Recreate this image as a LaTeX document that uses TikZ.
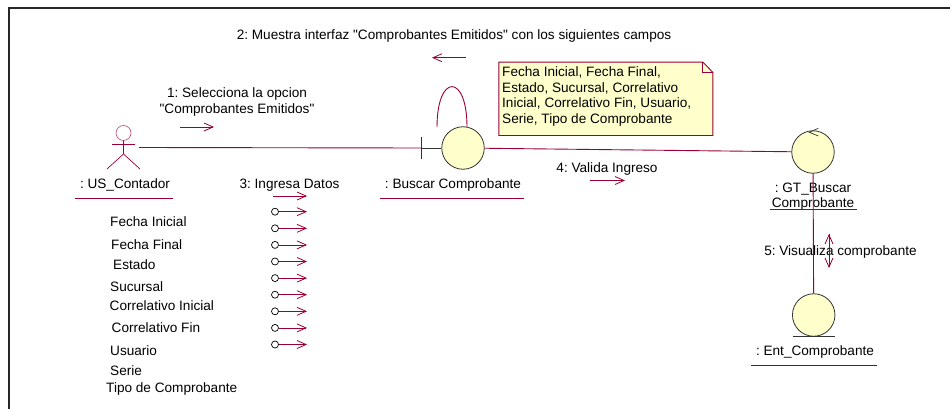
\documentclass[tikz,border=0pt]{standalone}
\usepackage{fontspec}
\setmainfont{Liberation Sans}
\usepackage{xcolor}
\usetikzlibrary{calc}
\usetikzlibrary{positioning}
\usetikzlibrary{arrows.meta}
\definecolor{linea}{HTML}{990033}
\definecolor{crema}{HTML}{FFFFCC}
\definecolor{oscuro}{HTML}{333333}

\begin{document}
\frenchspacing
\begin{tikzpicture}[x=1pt,y=1pt,on grid,>={Straight Barb[length=9pt,width=8pt]},
      every node/.style={font=\fontsize{13.6}{15.5}\selectfont, inner sep=0pt},
      texto/.style={text height=11.5pt, text depth=3pt},
      clase/.style={circle, draw=oscuro, fill=crema, line width=0.8pt, minimum size=42.5pt},
      punto/.style={circle, draw=black, fill=white, line width=0.7pt, minimum size=7pt},
      enlace/.style={draw=linea, line width=0.9pt},
      mensaje/.style={->, draw=linea, line width=0.8pt},
      subraya/.style={draw=linea, line width=0.8pt}]

      \useasboundingbox (0,0) rectangle (950,-409);
      \draw[line width=2pt, draw=black!85] (8.8,-409) -- (8.8,-8.5) -- (950,-8.5);

      \node[clase] (buscar) at (463,-148) {};
      \node[texto] (buscarLabel) [below=36pt of buscar, xshift=-10pt] {: Buscar Comprobante};
      \coordinate[below=14pt of buscarLabel, xshift=-73pt] (buscarS1);
      \coordinate[below=14pt of buscarLabel, xshift=71pt] (buscarS2);
      \coordinate[left=42pt of buscar] (barra);
      \coordinate[above=11pt of barra] (barraT);
      \coordinate[below=11pt of barra] (barraB);
      \coordinate[above=21pt of buscar, xshift=-26pt] (loopL);
      \coordinate[above=21pt of buscar, xshift=4pt] (loopR);

      \node[circle, draw=linea!70, line width=0.6pt, minimum size=15pt] (cabeza) [left=339.5pt of buscar, yshift=15pt] {};
      \coordinate[below=11pt of cabeza, xshift=-11.5pt] (brazoL);
      \coordinate[below=11pt of cabeza, xshift=11.5pt] (brazoR);
      \coordinate[below=21pt of cabeza] (cadera);
      \coordinate[below=36pt of cabeza, xshift=-16.5pt] (piernaL);
      \coordinate[below=36pt of cabeza, xshift=16.5pt] (piernaR);
      \coordinate[below=14.5pt of cabeza, xshift=15.5pt] (actor);
      \node[texto] (usLabel) [below=51pt of cabeza, xshift=1.5pt] {: US\_Contador};
      \coordinate[below=14pt of usLabel, xshift=-50pt] (usS1);
      \coordinate[below=14pt of usLabel, xshift=48pt] (usS2);

      \node[texto] (campo1) [below=38pt of usLabel, xshift=-15pt, anchor=west] {Fecha Inicial};
      \node[texto] (campo2) [below=61pt of usLabel, xshift=-14pt, anchor=west] {Fecha Final};
      \node[texto] (campo3) [below=81.5pt of usLabel, xshift=-12pt, anchor=west] {Estado};
      \node[texto] (campo4) [below=103pt of usLabel, xshift=-15pt, anchor=west] {Sucursal};
      \node[texto] (campo5) [below=122pt of usLabel, xshift=-15.5pt, anchor=west] {Correlativo Inicial};
      \node[texto] (campo6) [below=144pt of usLabel, xshift=-13.5pt, anchor=west] {Correlativo Fin};
      \node[texto] (campo7) [below=167pt of usLabel, xshift=-15pt, anchor=west] {Usuario};
      \node[texto] (campo8) [below=187pt of usLabel, xshift=-15pt, anchor=west] {Serie};
      \node[texto] (campo9) [below=204pt of usLabel, xshift=-19pt, anchor=west] {Tipo de Comprobante};

      \node[align=center] (msg1) [right=113.5pt of cabeza, yshift=31pt] {1: Selecciona la opcion\\\textquotedbl Comprobantes Emitidos\textquotedbl};
      \coordinate[below=25pt of msg1, xshift=-57pt] (msg1a);
      \coordinate[below=25pt of msg1, xshift=-23pt] (msg1b);

      \node[texto] (msg2) [above=113pt of buscar, xshift=-9pt] {2: Muestra interfaz \textquotedbl Comprobantes Emitidos\textquotedbl{} con los siguientes campos};
      \coordinate[below=22.7pt of msg2, xshift=12pt] (msg2a);
      \coordinate[below=22.7pt of msg2, xshift=-22pt] (msg2b);

      \node[texto] (msg3) [right=164.5pt of usLabel] {3: Ingresa Datos};
      \coordinate[below=12pt of msg3, xshift=-16.5pt] (msg3a);
      \coordinate[below=12pt of msg3, xshift=17.5pt] (msg3b);

      \node[punto] (p1) [below=27.7pt of msg3, xshift=-14.5pt] {};
      \node[punto] (p2) [below=16.6pt of p1] {};
      \node[punto] (p3) [below=16.6pt of p2] {};
      \node[punto] (p4) [below=16.6pt of p3] {};
      \node[punto] (p5) [below=16.6pt of p4] {};
      \node[punto] (p6) [below=16.6pt of p5] {};
      \node[punto] (p7) [below=16.6pt of p6] {};
      \node[punto] (p8) [below=16.6pt of p7] {};
      \node[punto] (p9) [below=16.6pt of p8] {};
      \coordinate[right=32pt of p1] (q1);
      \coordinate[right=32pt of p2] (q2);
      \coordinate[right=32pt of p3] (q3);
      \coordinate[right=32pt of p4] (q4);
      \coordinate[right=32pt of p5] (q5);
      \coordinate[right=32pt of p6] (q6);
      \coordinate[right=32pt of p7] (q7);
      \coordinate[right=32pt of p8] (q8);
      \coordinate[right=32pt of p9] (q9);

      \node[minimum width=213.7pt, minimum height=73pt] (nota) [right=142.85pt of buscar, yshift=49.2pt] {};
      \fill[crema] (nota.north west) -- ($(nota.north east)+(-10,0)$) -- ($(nota.north east)+(0,-10.3)$)
        -- (nota.south east) -- (nota.south west) -- cycle;
      \draw[enlace] (nota.north west) -- ($(nota.north east)+(-10,0)$) -- ($(nota.north east)+(0,-10.3)$)
        -- (nota.south east) -- (nota.south west) -- cycle;
      \draw[enlace] ($(nota.north east)+(-10,0)$) -- ($(nota.north east)+(-10,-10.3)$) -- ($(nota.north east)+(0,-10.3)$);
      \node[align=left] (notaTexto) [left=103.85pt of nota, yshift=2.5pt, anchor=west] {Fecha Inicial, Fecha Final,\\Estado, Sucursal, Correlativo\\Inicial, Correlativo Fin, Usuario,\\Serie, Tipo de Comprobante};

      \node[clase] (gt) [right=350pt of buscar, yshift=-4pt] {};
      \coordinate[above=19.7pt of gt, xshift=-3.7pt] (gtTip);
      \coordinate[above=23.7pt of gt, xshift=5.3pt] (gtTip1);
      \coordinate[above=16pt of gt, xshift=5.3pt] (gtTip2);
      \node[align=center] (gtLabel) [below=44.5pt of gt] {: GT\_Buscar\\Comprobante};
      \coordinate[below=57.3pt of gt, xshift=-43.3pt] (gtS1);
      \coordinate[below=57.3pt of gt, xshift=43.7pt] (gtS2);

      \node[texto] (msg4) [right=144pt of buscar, yshift=-20pt] {4: Valida Ingreso};
      \coordinate[below=12.5pt of msg4, xshift=-17pt] (msg4a);
      \coordinate[below=12.5pt of msg4, xshift=18pt] (msg4b);

      \node[texto] (msg5) [below=99pt of gt, xshift=27.5pt] {5: Visualiza comprobante};
      \coordinate[below=82pt of gt, xshift=16pt] (msg5a);
      \coordinate[below=116pt of gt, xshift=16pt] (msg5b);

      \node[clase] (ent) [below=163pt of gt, xshift=0.7pt] {};
      \coordinate[below=21pt of ent, xshift=-21pt] (entB1);
      \coordinate[below=21pt of ent, xshift=21pt] (entB2);
      \node[texto] (entLabel) [below=36pt of ent, xshift=1.3pt] {: Ent\_Comprobante};
      \coordinate[below=14pt of entLabel, xshift=-64pt] (entS1);
      \coordinate[below=14pt of entLabel, xshift=62pt] (entS2);

      \draw[draw=linea, line width=0.7pt] (brazoL) -- (brazoR);
      \draw[draw=linea, line width=0.7pt] (cabeza) -- (cadera) -- (piernaL);
      \draw[draw=linea, line width=0.7pt] (cadera) -- (piernaR);
      \draw[draw=oscuro, line width=0.8pt] (barraT) -- (barraB);
      \draw[draw=oscuro, line width=0.8pt] (barra) -- (buscar);
      \draw[draw=oscuro, line width=0.8pt] (entB1) -- (entB2);
      \draw[draw=oscuro, line width=0.7pt] (gtTip1) -- (gtTip) -- (gtTip2);

      \path[enlace]
        (actor) edge [] (barra)
        (buscar) edge [] (gt)
        (gt) edge [] (ent)
        (loopL) edge [out=90, in=90, looseness=4.6] (loopR)
        ;

      \path[mensaje]
        (msg1a) edge [] (msg1b)
        (msg2a) edge [] (msg2b)
        (msg3a) edge [] (msg3b)
        (msg4a) edge [] (msg4b)
        (msg5a) edge [] (msg5b)
        (p1) edge [] (q1)
        (p2) edge [] (q2)
        (p3) edge [] (q3)
        (p4) edge [] (q4)
        (p5) edge [] (q5)
        (p6) edge [] (q6)
        (p7) edge [] (q7)
        (p8) edge [] (q8)
        (p9) edge [] (q9)
        ;

      \path[subraya]
        (usS1) edge [] (usS2)
        (buscarS1) edge [] (buscarS2)
        (gtS1) edge [] (gtS2)
        (entS1) edge [] (entS2)
        ;

    \end{tikzpicture}
\end{document}
